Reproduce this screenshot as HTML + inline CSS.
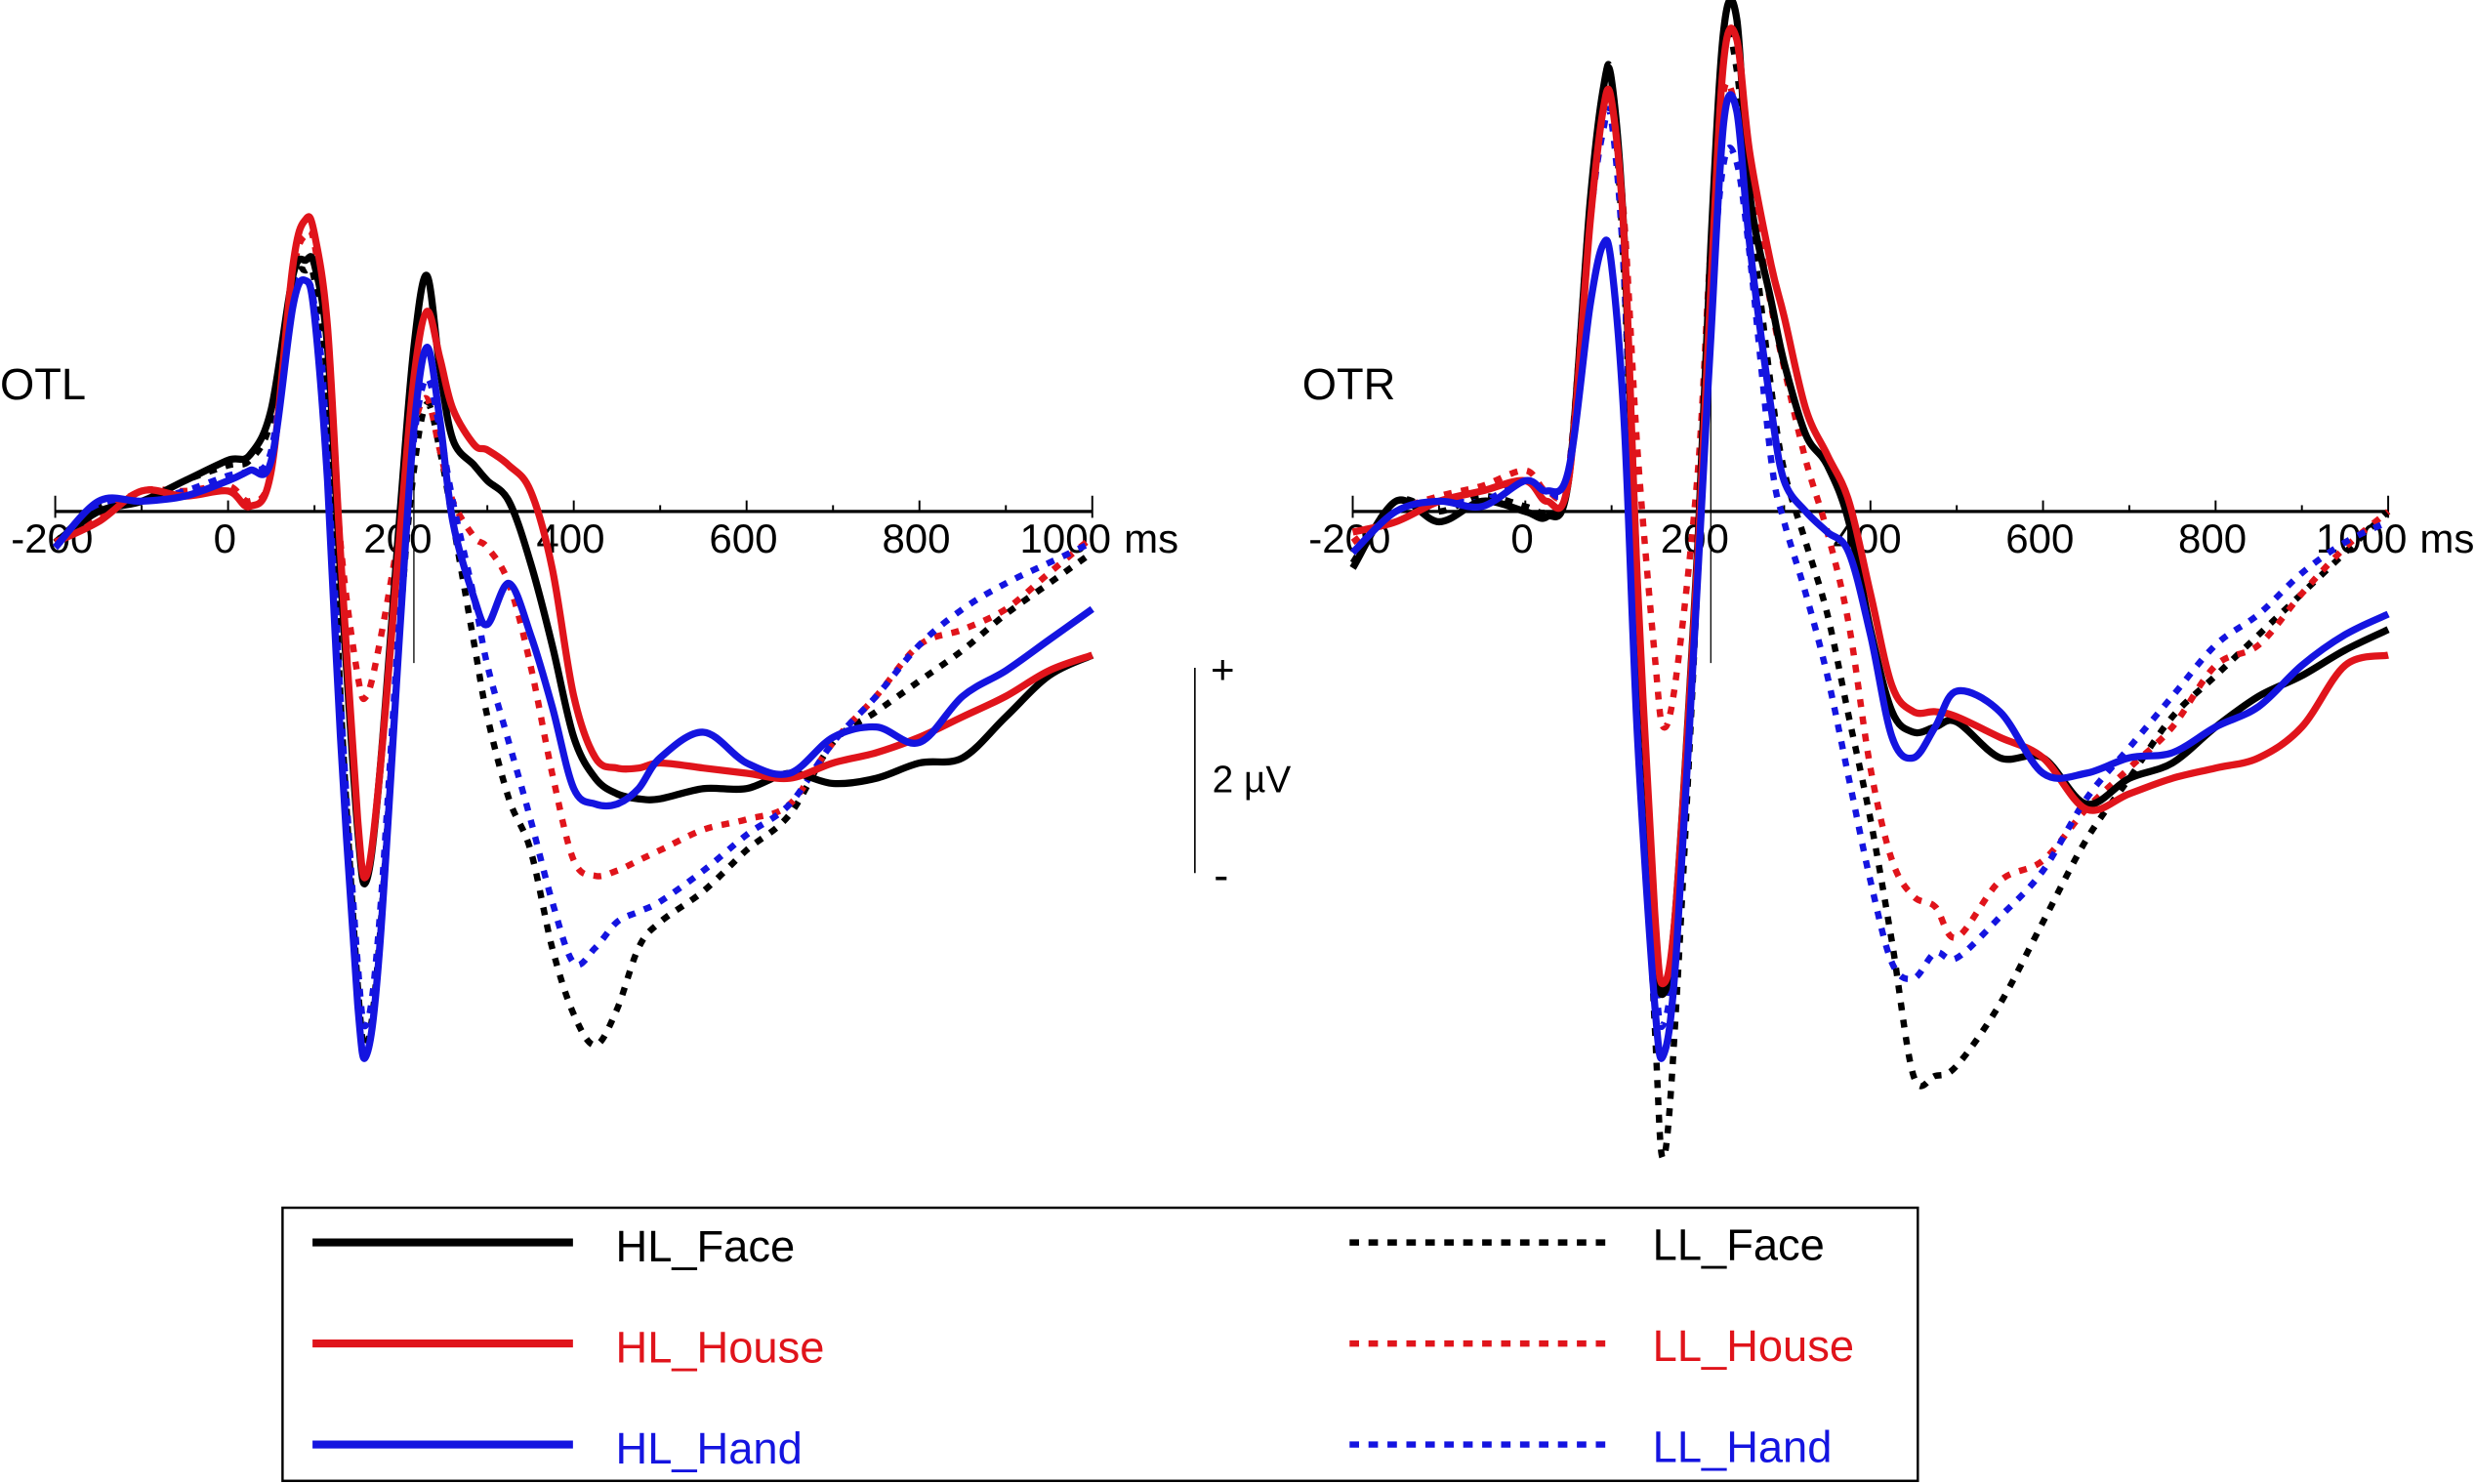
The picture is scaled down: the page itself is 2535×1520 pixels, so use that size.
<!DOCTYPE html>
<html><head><meta charset="utf-8"><style>
html,body{margin:0;padding:0;background:#fff;}
svg{display:block;}
text{font-family:"Liberation Sans",Arial,sans-serif;}
</style></head><body>
<svg id="chart" width="2535" height="1520" viewBox="0 0 1568 940" preserveAspectRatio="none" xmlns="http://www.w3.org/2000/svg">
<g id="panels"></g>
<g>
<line x1="757" y1="423" x2="757" y2="553" stroke="#000" stroke-width="1"/>
<text x="767" y="433" font-size="26">+</text>
<text x="768" y="502" font-size="24">2 µV</text>
<text x="769" y="564" font-size="28">-</text>
</g>
<g>
<rect x="179" y="765" width="1036" height="173" fill="none" stroke="#000" stroke-width="1.5"/>
<line x1="198" y1="787" x2="363" y2="787" stroke="#000" stroke-width="5"/>
<text x="390" y="799" font-size="28" fill="#000">HL_Face</text>
<line x1="198" y1="851" x2="363" y2="851" stroke="#e0141b" stroke-width="5"/>
<text x="390" y="863" font-size="28" fill="#e0141b">HL_House</text>
<line x1="198" y1="915" x2="363" y2="915" stroke="#1414e0" stroke-width="5"/>
<text x="390" y="927" font-size="28" fill="#1414e0">HL_Hand</text>
<line x1="855" y1="787" x2="1020" y2="787" stroke="#000" stroke-width="4" stroke-dasharray="6 6"/>
<text x="1047" y="798" font-size="28" fill="#000">LL_Face</text>
<line x1="855" y1="851" x2="1020" y2="851" stroke="#e0141b" stroke-width="4" stroke-dasharray="6 6"/>
<text x="1047" y="862" font-size="28" fill="#e0141b">LL_House</text>
<line x1="855" y1="915" x2="1020" y2="915" stroke="#1414e0" stroke-width="4" stroke-dasharray="6 6"/>
<text x="1047" y="926" font-size="28" fill="#1414e0">LL_Hand</text>
</g>
</svg>
<script>
const times = [-200,-150,-100,-50,0,25,50,75,90,100,115,130,150,160,175,200,215,230,245,260,285,300,325,350,375,400,425,450,475,500,550,600,650,700,750,800,850,900,950,1000];
const tickLabels = ["-200","0","200","400","600","800","1000"];
const tickValues = [-200,0,200,400,600,800,1000];
const L_HL_Face = [-0.3,0,0.1,0.3,0.5,0.55,1.0,2.3,2.45,2.4,1.6,-0.6,-3.1,-3.6,-2.6,0.1,1.6,2.3,1.4,0.7,0.45,0.3,0.1,-0.5,-1.3,-2.2,-2.6,-2.75,-2.8,-2.8,-2.7,-2.7,-2.55,-2.65,-2.6,-2.45,-2.4,-2.0,-1.6,-1.4];
const L_HL_House = [-0.3,-0.1,0.2,0.15,0.2,0.05,0.4,2.4,2.85,2.7,1.8,-0.4,-3.0,-3.55,-2.6,-0.1,1.3,1.95,1.5,1.0,0.65,0.6,0.45,0.2,-0.55,-1.8,-2.4,-2.5,-2.5,-2.45,-2.5,-2.55,-2.6,-2.45,-2.35,-2.2,-2.0,-1.8,-1.55,-1.4];
const L_HL_Hand = [-0.35,0.1,0.1,0.15,0.3,0.4,0.5,2.0,2.25,1.9,0.3,-2.2,-4.8,-5.3,-4.3,-1.0,0.8,1.6,0.9,-0.1,-0.85,-1.1,-0.7,-1.2,-1.9,-2.7,-2.85,-2.85,-2.7,-2.4,-2.15,-2.45,-2.55,-2.2,-2.1,-2.25,-1.8,-1.55,-1.25,-0.95];
const L_LL_Face = [-0.3,0.05,0.1,0.3,0.45,0.5,0.9,2.2,2.35,2.25,1.2,-1.8,-4.6,-5.2,-4.2,-1.0,0.4,1.05,0.6,-0.1,-1.3,-2.0,-2.8,-3.3,-4.25,-4.9,-5.2,-4.85,-4.25,-4.0,-3.7,-3.3,-2.95,-2.25,-1.95,-1.65,-1.35,-1.0,-0.7,-0.4];
const L_LL_House = [-0.3,-0.05,0.2,0.2,0.25,0.1,0.4,2.3,2.7,2.6,1.6,-0.3,-1.6,-1.8,-1.3,-0.1,0.8,1.1,0.6,0.1,-0.25,-0.35,-0.7,-1.5,-2.55,-3.4,-3.55,-3.5,-3.4,-3.3,-3.1,-3.0,-2.85,-2.25,-1.8,-1.3,-1.15,-0.95,-0.6,-0.25];
const L_LL_Hand = [-0.35,0.05,0.1,0.2,0.35,0.4,0.6,2.1,2.25,2.0,0.8,-1.8,-4.4,-5.0,-4.0,-0.8,0.7,1.3,0.8,0.1,-0.85,-1.5,-2.25,-3.0,-3.8,-4.4,-4.25,-4.0,-3.9,-3.8,-3.5,-3.15,-2.85,-2.25,-1.8,-1.3,-0.95,-0.7,-0.5,-0.3];
const R_HL_Face = [-0.55,0.1,-0.1,0.1,0.0,-0.05,0.3,3.0,4.1,4.2,2.6,-0.8,-4.0,-4.7,-3.8,-0.3,2.6,4.7,4.8,3.1,2.05,1.45,0.75,0.45,-0.1,-1.15,-1.95,-2.15,-2.1,-2.05,-2.4,-2.4,-2.85,-2.6,-2.45,-2.1,-1.8,-1.6,-1.35,-1.15];
const R_HL_House = [-0.2,-0.1,0.1,0.2,0.3,0.1,0.3,2.8,3.9,4.0,2.6,-0.7,-3.9,-4.6,-3.8,-0.4,2.2,4.4,4.6,3.5,2.4,1.9,1.0,0.55,0.1,-0.8,-1.7,-1.95,-1.95,-2.0,-2.2,-2.4,-2.9,-2.75,-2.6,-2.5,-2.4,-2.1,-1.5,-1.4];
const R_HL_Hand = [-0.4,0.0,0.1,0.05,0.3,0.2,0.4,2.0,2.6,2.4,0.8,-2.2,-4.8,-5.3,-4.3,-0.6,1.7,3.8,3.9,2.6,1.0,0.3,0.0,-0.2,-0.4,-1.2,-2.2,-2.4,-2.1,-1.75,-1.95,-2.55,-2.55,-2.4,-2.35,-2.1,-1.9,-1.5,-1.2,-1.0];
const R_LL_Face = [-0.5,0.1,0.0,0.15,0.05,0.0,0.3,3.0,4.1,4.2,2.2,-1.3,-5.0,-6.3,-4.8,-0.6,2.5,4.6,4.3,3.0,1.2,0.4,-0.3,-1.0,-2.0,-3.0,-4.2,-5.5,-5.5,-5.4,-4.8,-4.0,-3.2,-2.6,-2.0,-1.6,-1.2,-0.8,-0.4,0.0];
const R_LL_House = [-0.3,0.0,0.15,0.25,0.4,0.2,0.4,3.0,3.9,4.0,2.8,0.6,-1.4,-2.1,-1.6,0.4,2.6,4.1,3.9,3.2,2.0,1.4,0.5,-0.2,-1.1,-2.5,-3.4,-3.75,-3.85,-4.15,-3.6,-3.4,-2.9,-2.5,-2.1,-1.5,-1.3,-0.8,-0.35,0.0];
const R_LL_Hand = [-0.4,0.0,0.1,0.1,0.3,0.2,0.4,2.8,3.7,3.8,2.2,-1.3,-4.4,-5.0,-4.0,-0.3,2.0,3.4,3.4,2.5,0.5,-0.1,-0.8,-1.6,-2.6,-3.6,-4.4,-4.55,-4.3,-4.35,-3.95,-3.5,-2.8,-2.3,-1.8,-1.3,-1.0,-0.6,-0.3,-0.1];

const NS = "http://www.w3.org/2000/svg";
const RED = "#e0141b", BLUE = "#1414e0", BLACK = "#000";
const panels = [
  {name:"otl", label:"OTL", labelX:0, x0:35, x1:692, y0:324,
   series:[["ll-face",L_LL_Face,BLACK,true],["ll-house",L_LL_House,RED,true],["ll-hand",L_LL_Hand,BLUE,true],
           ["hl-face",L_HL_Face,BLACK,false],["hl-house",L_HL_House,RED,false],["hl-hand",L_HL_Hand,BLUE,false]]},
  {name:"otr", label:"OTR", labelX:825, x0:857, x1:1513, y0:324,
   series:[["ll-face",R_LL_Face,BLACK,true],["ll-house",R_LL_House,RED,true],["ll-hand",R_LL_Hand,BLUE,true],
           ["hl-face",R_HL_Face,BLACK,false],["hl-house",R_HL_House,RED,false],["hl-hand",R_HL_Hand,BLUE,false]]}
];
const PX_PER_UV = 65;
function mk(tag, attrs, parent){const e=document.createElementNS(NS,tag);for(const k in attrs)e.setAttribute(k,attrs[k]);parent.appendChild(e);return e;}
function pathFrom(pts){
  let d="M"+pts[0][0].toFixed(1)+","+pts[0][1].toFixed(1);
  for(let i=0;i<pts.length-1;i++){
    const p0=pts[Math.max(0,i-1)],p1=pts[i],p2=pts[i+1],p3=pts[Math.min(pts.length-1,i+2)];
    const c1=[p1[0]+(p2[0]-p0[0])/6,p1[1]+(p2[1]-p0[1])/6];
    const c2=[p2[0]-(p3[0]-p1[0])/6,p2[1]-(p3[1]-p1[1])/6];
    d+="C"+c1[0].toFixed(1)+","+c1[1].toFixed(1)+" "+c2[0].toFixed(1)+","+c2[1].toFixed(1)+" "+p2[0].toFixed(1)+","+p2[1].toFixed(1);
  }
  return d;
}
const root=document.getElementById("panels");
panels.forEach(p=>{
  const xs=t=>p.x0+(t+200)/1200*(p.x1-p.x0);
  const ys=v=>p.y0-v*PX_PER_UV;
  const g=mk("g",{},root);
  
  
  const lab=mk("text",{x:p.labelX,y:253,"font-size":28},g);
  lab.textContent=p.label;
  
  
  const vl=mk("line",{x1:xs(215),x2:xs(215),y1:224,y2:420,stroke:"#000","stroke-width":0.8},g);
  
  
  const ax=mk("line",{x1:p.x0,x2:p.x1,y1:p.y0,y2:p.y0,stroke:"#000","stroke-width":2},g);
  
  
  for(let t=-200;t<=1000;t+=100){
    const h=(t%200===0)?(t===1000||t===-200?10:7):4;
    const tk=mk("line",{x1:xs(t),x2:xs(t),y1:p.y0-h,y2:p.y0+(t===1000||t===-200?4:0),stroke:"#000","stroke-width":1.2},g);
    
    
  }
  tickValues.forEach((t,i)=>{
    const cx = t===1000 ? xs(t)-17 : xs(t)-2;
    const tx=mk("text",{x:cx,y:p.y0+26,"font-size":26,"text-anchor":"middle"},g);
    tx.textContent=tickLabels[i];
    
    
  });
  const ms=mk("text",{x:xs(1000)+20,y:p.y0+26,"font-size":26},g);
  ms.textContent="ms";
  
  
  p.series.forEach(s=>{
    const pts=times.map((t,i)=>[xs(t),ys(s[1][i])]);
    const attrs={d:pathFrom(pts),fill:"none",stroke:s[2],"stroke-width":s[3]?4:4.5,"stroke-linejoin":"round"};
    if(s[3]){attrs["stroke-dasharray"]="5 6";}
    const path=mk("path",attrs,g);
    
    
  });
});
</script>
</body></html>
